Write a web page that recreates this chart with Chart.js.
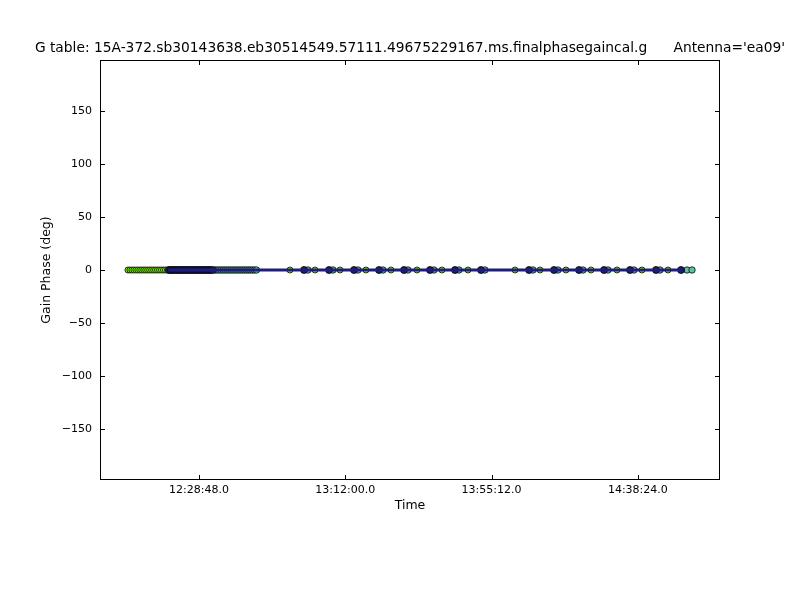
<!DOCTYPE html>
<html>
<head>
<meta charset="utf-8">
<script src="https://cdn.jsdelivr.net/npm/chart.js@4.4.1/dist/chart.umd.min.js"></script>
<style>
  html, body { margin: 0; padding: 0; background: #fff; }
  #c { display: block; }
</style>
</head>
<body>
<canvas id="c" width="800" height="600"></canvas>
<script>
// gain solutions, phase in deg, time of day
const greenTimes = [
  "12:07:49", "12:08:24", "12:08:59", "12:09:34", "12:10:09", "12:10:44", "12:11:19",
  "12:11:54", "12:12:29", "12:13:04", "12:13:39", "12:14:14", "12:14:49", "12:15:24", "12:15:59",
  "12:16:34", "12:17:09", "12:17:44", "12:18:19", "12:18:54", "12:19:29",
  "12:55:40", "13:03:04", "13:10:27", "13:18:07", "13:25:30", "13:33:11", "13:40:34", "13:48:15",
  "14:02:08", "14:09:30", "14:17:11", "14:24:34", "14:32:15", "14:39:38", "14:47:19"
];
const greenPhases = [
  0, 0, 0, 0, 0, 0, 0, 0, 0, 0, 0, 0, 0, 0, 0, 0, 0, 0, 0, 0, 0,
  0, 0, 0, 0, 0, 0, 0, 0, 0, 0, 0, 0, 0, 0, 0
];

const navyTimes = [
  "12:19:56", "12:20:31", "12:21:06", "12:21:41", "12:22:16", "12:22:51", "12:23:26", "12:24:01",
  "12:24:36", "12:25:11", "12:25:46", "12:26:21", "12:26:56", "12:27:31", "12:28:06", "12:28:41",
  "12:29:16", "12:29:51", "12:30:26", "12:31:01", "12:31:36", "12:32:11", "12:32:46",
  "12:59:49", "13:07:12", "13:14:35", "13:21:58", "13:29:21", "13:37:01", "13:44:24", "13:52:05",
  "14:06:16", "14:13:39", "14:21:02", "14:28:25", "14:36:05", "14:43:46", "14:51:09"
];
const navyPhases = [
  0, 0, 0, 0, 0, 0, 0, 0, 0, 0, 0, 0, 0, 0, 0, 0, 0, 0, 0, 0, 0, 0, 0,
  0, 0, 0, 0, 0, 0, 0, 0, 0, 0, 0, 0, 0, 0, 0
];

const tealTimes = [
  "12:33:32", "12:34:07", "12:34:42", "12:35:17", "12:35:52", "12:36:27", "12:37:02", "12:37:37",
  "12:38:12", "12:38:47", "12:39:22", "12:39:57", "12:40:32", "12:41:07", "12:41:42", "12:42:17",
  "12:42:52", "12:43:27", "12:44:02", "12:44:37", "12:45:12", "12:45:47",
  "13:01:00", "13:08:23", "13:15:46", "13:23:09", "13:30:32", "13:38:12", "13:45:35", "13:53:16",
  "14:07:27", "14:14:50", "14:22:13", "14:29:36", "14:37:16", "14:44:57", "14:52:55", "14:54:24"
];
const tealPhases = [
  0, 0, 0, 0, 0, 0, 0, 0, 0, 0, 0, 0, 0, 0, 0, 0, 0, 0, 0, 0, 0, 0,
  0, 0, 0, 0, 0, 0, 0, 0, 0, 0, 0, 0, 0, 0, 0, 0
];

const xTickLabels = ["12:28:48.0", "13:12:00.0", "13:55:12.0", "14:38:24.0"];
const yTickValues = [-150, -100, -50, 0, 50, 100, 150];

const titulo = "G table: 15A-372.sb30143638.eb30514549.57111.49675229167.ms.finalphasegaincal.g      Antenna='ea09'";

function toSec(s) {
  const p = s.split(':').map(Number);
  return p[0] * 3600 + p[1] * 60 + p[2];
}
function fmtTime(v) {
  const h = Math.floor(v / 3600), m = Math.floor((v % 3600) / 60), s = Math.round(v % 60);
  const pad = n => String(n).padStart(2, '0');
  return pad(h) + ':' + pad(m) + ':' + pad(s) + '.0';
}
const pts = (times, vals) => times.map((t, i) => ({ x: toSec(t), y: vals[i] }));

const xTickValues = xTickLabels.map(toSec);
const FONT = "'DejaVu Sans', 'Liberation Sans', sans-serif";

// frame, inward ticks and titles (matplotlib style)
const molduraPlugin = {
  id: 'moldura',
  afterDraw(chart) {
    const { ctx, chartArea: a, scales } = chart;
    ctx.save();
    ctx.strokeStyle = '#000';
    ctx.lineWidth = 1;
    ctx.strokeRect(a.left + 0.5, a.top + 0.5, a.right - a.left - 1, a.bottom - a.top - 1);
    ctx.beginPath();
    xTickValues.forEach(v => {
      const x = Math.round(scales.x.getPixelForValue(v)) + 0.5;
      ctx.moveTo(x, a.bottom); ctx.lineTo(x, a.bottom - 5);
      ctx.moveTo(x, a.top); ctx.lineTo(x, a.top + 5);
    });
    yTickValues.forEach(v => {
      const y = Math.round(scales.y.getPixelForValue(v)) + 0.5;
      ctx.moveTo(a.left, y); ctx.lineTo(a.left + 5, y);
      ctx.moveTo(a.right, y); ctx.lineTo(a.right - 5, y);
    });
    ctx.stroke();

    ctx.fillStyle = '#000';
    ctx.textAlign = 'center';
    ctx.textBaseline = 'middle';
    ctx.font = '13.8px ' + FONT;
    ctx.fillText(titulo, (a.left + a.right) / 2, 48);
    ctx.font = '12.5px ' + FONT;
    ctx.fillText('Time', (a.left + a.right) / 2, 506);
    ctx.translate(47, (a.top + a.bottom) / 2);
    ctx.rotate(-Math.PI / 2);
    ctx.fillText('Gain Phase (deg)', 0, 0);
    ctx.restore();
  }
};

const pontoBase = { showLine: false, pointBorderColor: '#000', pointBorderWidth: 0.8, pointHoverRadius: 4 };

new Chart(document.getElementById('c').getContext('2d'), {
  type: 'scatter',
  data: {
    datasets: [
      {
        label: 'linha',
        data: pts(navyTimes, navyPhases),
        showLine: true,
        borderColor: '#1e1e78',
        borderWidth: 3,
        pointRadius: 0
      },
      Object.assign({}, pontoBase, {
        label: 'navy',
        data: pts(navyTimes, navyPhases),
        pointBackgroundColor: '#1c1c6e',
        pointRadius: 3.5
      }),
      Object.assign({}, pontoBase, {
        label: 'teal',
        data: pts(tealTimes, tealPhases),
        pointBackgroundColor: '#5cc4a4',
        pointRadius: 3.2
      }),
      Object.assign({}, pontoBase, {
        label: 'green',
        data: pts(greenTimes, greenPhases),
        pointBackgroundColor: '#7cfc00',
        pointRadius: 3
      })
    ]
  },
  options: {
    responsive: false,
    animation: false,
    devicePixelRatio: 1,
    layout: { padding: { left: 0, right: 80, top: 60, bottom: 0 } },
    plugins: {
      legend: { display: false },
      tooltip: { enabled: false }
    },
    scales: {
      x: {
        type: 'linear',
        min: 43174,
        max: 54160,
        grid: { display: false, drawTicks: false },
        border: { display: false },
        afterBuildTicks: scale => { scale.ticks = xTickValues.map(v => ({ value: v })); },
        afterFit: scale => { scale.height = 120; },
        ticks: {
          padding: 4,
          maxRotation: 0,
          autoSkip: false,
          color: '#000',
          font: { family: FONT, size: 11 },
          callback: v => fmtTime(v)
        }
      },
      y: {
        min: -198,
        max: 198,
        grid: { display: false, drawTicks: false },
        border: { display: false },
        afterBuildTicks: scale => { scale.ticks = yTickValues.map(v => ({ value: v })); },
        afterFit: scale => { scale.width = 100; },
        ticks: {
          padding: 8,
          autoSkip: false,
          color: '#000',
          font: { family: FONT, size: 11 },
          callback: v => String(v).replace('-', '\u2212')
        }
      }
    }
  },
  plugins: [molduraPlugin]
});
</script>
</body>
</html>
